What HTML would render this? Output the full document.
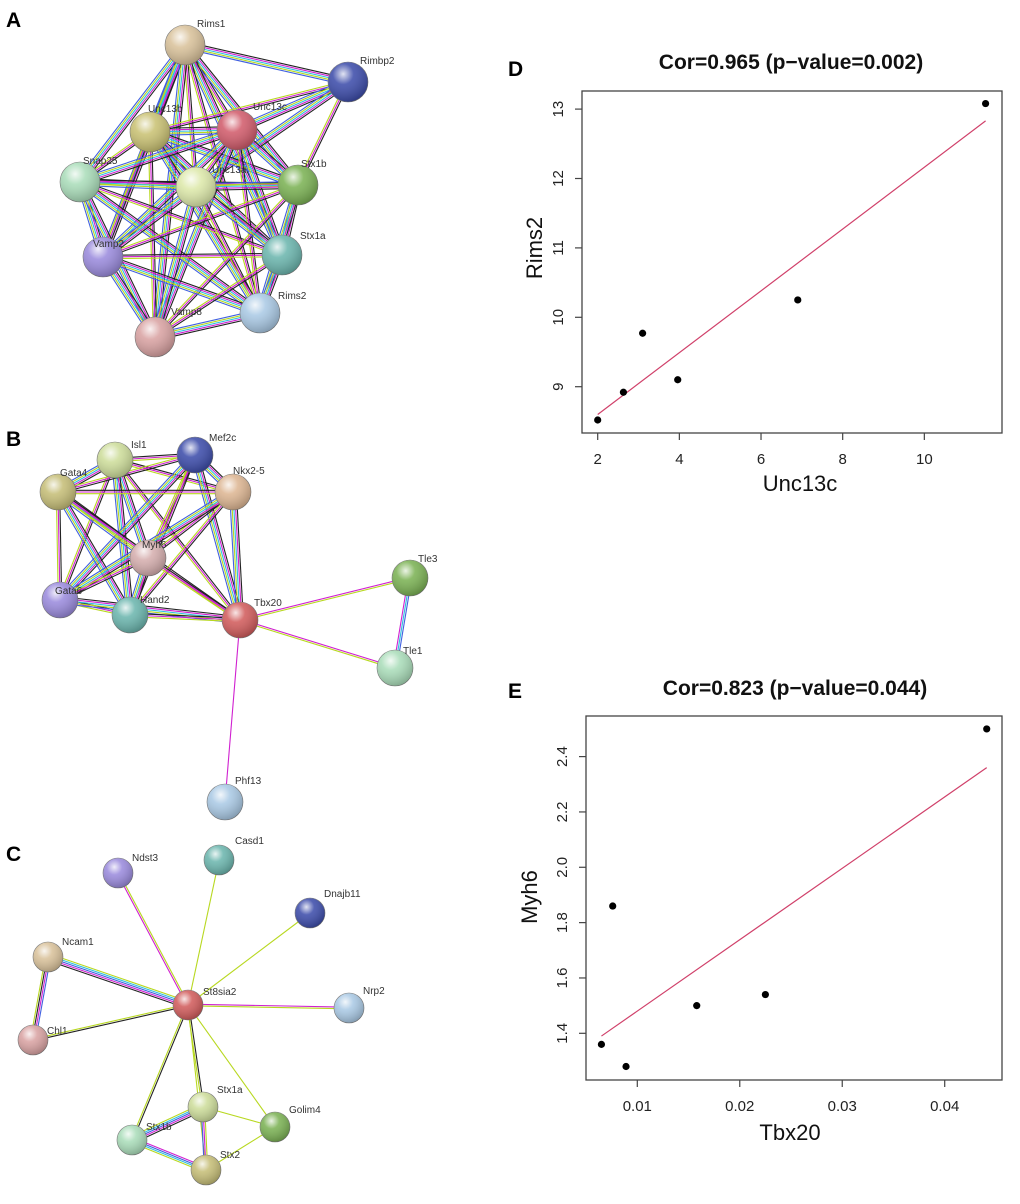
<!DOCTYPE html>
<html><head><meta charset="utf-8"><style>
html,body{margin:0;padding:0;background:#fff;}
svg{display:block;font-family:"Liberation Sans",Arial,sans-serif;}
</style></head><body>
<svg id="fig" width="1020" height="1204" viewBox="0 0 1020 1204">
<defs>
<radialGradient id="gloss" cx="0.38" cy="0.3" r="0.75">
<stop offset="0" stop-color="#fff" stop-opacity="0.85"/>
<stop offset="0.35" stop-color="#fff" stop-opacity="0.15"/>
<stop offset="1" stop-color="#000" stop-opacity="0.25"/>
</radialGradient>
</defs>
<g id="netA"></g>
<g id="netB"></g>
<g id="netC"></g>
<g id="chartD"></g>
<g id="chartE"></g>
<text x="6" y="27" font-size="21" font-weight="bold">A</text>
<text x="6" y="446" font-size="21" font-weight="bold">B</text>
<text x="6" y="861" font-size="21" font-weight="bold">C</text>
<text x="508" y="76" font-size="21" font-weight="bold">D</text>
<text x="508" y="698" font-size="21" font-weight="bold">E</text>
</svg>
<script>
// ---------- Chart D data ----------
const dX = [2.0, 2.63, 3.1, 3.96, 6.9, 11.5];
const dY = [8.52, 8.92, 9.77, 9.1, 10.25, 13.08];
const dFitX = [2.0, 11.5];
const dFitY = [8.6, 12.83];
const dXTicks = [2, 4, 6, 8, 10];
const dYTicks = [9, 10, 11, 12, 13];
// ---------- Chart E data ----------
const eX = [0.0065, 0.0076, 0.0089, 0.0158, 0.0225, 0.0441];
const eY = [1.36, 1.86, 1.28, 1.50, 1.54, 2.50];
const eFitX = [0.0065, 0.0441];
const eFitY = [1.39, 2.36];
const eXTicks = [0.01, 0.02, 0.03, 0.04];
const eXTickLabels = ["0.01", "0.02", "0.03", "0.04"];
const eYTicks = [1.4, 1.6, 1.8, 2.0, 2.2, 2.4];
const eYTickLabels = ["1.4", "1.6", "1.8", "2.0", "2.2", "2.4"];

const NS = "http://www.w3.org/2000/svg";
function mk(tag, attrs, parent) {
  const e = document.createElementNS(NS, tag);
  for (const k in attrs) e.setAttribute(k, attrs[k]);
  parent.appendChild(e);
  return e;
}

function scatter(gid, cfg) {
  const g = document.getElementById(gid);
  const sx = v => cfg.px0 + (v - cfg.vx0) * cfg.kx;
  const sy = v => cfg.py0 - (v - cfg.vy0) * cfg.ky;
  const box = mk("rect", {x: cfg.L, y: cfg.T, width: cfg.R - cfg.L, height: cfg.B - cfg.T, fill: "none", stroke: "#444", "stroke-width": 1.3}, g);
  
  
  const t = mk("text", {x: cfg.titleX, y: cfg.titleY, "text-anchor": "middle", "font-size": 21, "font-weight": "bold", fill: "#111"}, g);
  t.textContent = cfg.title;
  
  
  cfg.xt.forEach((v, i) => {
    const x = sx(v);
    const tk = mk("line", {x1: x, x2: x, y1: cfg.B, y2: cfg.B + 7, stroke: "#444", "stroke-width": 1.2}, g);
    
    
    const lb = mk("text", {x: x, y: cfg.B + 31, "text-anchor": "middle", "font-size": 15, fill: "#222"}, g);
    lb.textContent = cfg.xtl[i];
    
    
  });
  cfg.yt.forEach((v, i) => {
    const y = sy(v);
    const tk = mk("line", {x1: cfg.L - 7, x2: cfg.L, y1: y, y2: y, stroke: "#444", "stroke-width": 1.2}, g);
    
    
    const lx = cfg.L - 19;
    const lb = mk("text", {x: lx, y: y, "text-anchor": "middle", "font-size": 15, fill: "#222", transform: `rotate(-90 ${lx} ${y})`}, g);
    lb.textContent = cfg.ytl[i];
    
    
  });
  const xl = mk("text", {x: cfg.xlX, y: cfg.xlY, "text-anchor": "middle", "font-size": 22, fill: "#111"}, g);
  xl.textContent = cfg.xlab;
  
  
  const yl = mk("text", {x: cfg.ylX, y: cfg.ylY, "text-anchor": "middle", "font-size": 22, fill: "#111", transform: `rotate(-90 ${cfg.ylX} ${cfg.ylY})`}, g);
  yl.textContent = cfg.ylab;
  
  
  const fit = mk("line", {x1: sx(cfg.fx[0]), y1: sy(cfg.fy[0]), x2: sx(cfg.fx[1]), y2: sy(cfg.fy[1]), stroke: "#d0406a", "stroke-width": 1.2}, g);
  
  
  cfg.x.forEach((v, i) => {
    const c = mk("circle", {cx: sx(v), cy: sy(cfg.y[i]), r: 3.6, fill: "#000"}, g);
    
    
  });
}

scatter("chartD", {L: 582, R: 1002, T: 91, B: 433, px0: 597.7, vx0: 2, kx: 40.83, py0: 386.7, vy0: 9, ky: 69.4,
  x: dX, y: dY, fx: dFitX, fy: dFitY, xt: dXTicks, xtl: dXTicks.map(String), yt: dYTicks, ytl: dYTicks.map(String),
  title: "Cor=0.965 (p\u2212value=0.002)", titleX: 791, titleY: 69, xlab: "Unc13c", xlX: 800, xlY: 491, ylab: "Rims2", ylX: 542, ylY: 248});
scatter("chartE", {L: 586, R: 1002, T: 716, B: 1080, px0: 637.3, vx0: 0.01, kx: 10247, py0: 1033.3, vy0: 1.4, ky: 276.7,
  x: eX, y: eY, fx: eFitX, fy: eFitY, xt: eXTicks, xtl: eXTickLabels, yt: eYTicks, ytl: eYTickLabels,
  title: "Cor=0.823 (p\u2212value=0.044)", titleX: 795, titleY: 695, xlab: "Tbx20", xlX: 790, xlY: 1140, ylab: "Myh6", ylX: 537, ylY: 897});

// ---------- Networks ----------
const K = "#222", M = "#d020d0", C = "#30c0e0", Y = "#b8d820", Bl = "#4060e0";
function network(gid, nodes, edges, r) {
  const g = document.getElementById(gid);
  const idx = {};
  nodes.forEach(n => idx[n[0]] = n);
  edges.forEach(e => {
    const a = idx[e[0]], b = idx[e[1]], cols = e[2];
    const dx = b[1] - a[1], dy = b[2] - a[2], L = Math.hypot(dx, dy);
    const nx = -dy / L, ny = dx / L, sp = 1.7;
    const eg = mk("g", {}, g);
    
    
    cols.forEach((c, i) => {
      const o = (i - (cols.length - 1) / 2) * sp;
      mk("line", {x1: a[1] + nx * o, y1: a[2] + ny * o, x2: b[1] + nx * o, y2: b[2] + ny * o, stroke: c, "stroke-width": 1.1}, eg);
    });
  });
  nodes.forEach(n => {
    const ng = mk("g", {}, g);
    
    
    mk("circle", {cx: n[1], cy: n[2], r: r, fill: n[3], stroke: "#777", "stroke-width": 0.6}, ng);
    mk("circle", {cx: n[1], cy: n[2], r: r, fill: "url(#gloss)"}, ng);
    const t = mk("text", {x: n[1] + (n[4] || 0), y: n[2] + (n[5] || 0), "font-size": 10, fill: "#333"}, ng);
    t.textContent = n[0];
  });
}
const full = [K, M, C, Y, Bl];
const nodesA = [
  ["Rims1", 185, 45, "#d8c098", 12, -18], ["Rimbp2", 348, 82, "#3848a8", 12, -18],
  ["Unc13b", 150, 132, "#c8c070", -2, -20], ["Unc13c", 237, 130, "#d05868", 16, -20],
  ["Snap25", 80, 182, "#a8dcb8", 3, -18], ["Stx1b", 298, 185, "#78b050", 3, -18],
  ["Unc13a", 196, 187, "#dce8a8", 16, -14], ["Vamp2", 103, 257, "#9888dc", -10, -10],
  ["Stx1a", 282, 255, "#68b4ac", 18, -16], ["Rims2", 260, 313, "#a8c8e4", 18, -14], ["Vamp8", 155, 337, "#d8a0a0", 16, -22]];
const edgesA = [];
for (let i = 0; i < nodesA.length; i++) for (let j = i + 1; j < nodesA.length; j++) {
  const a = nodesA[i][0], b = nodesA[j][0];
  if ((a === "Rimbp2" && ["Snap25", "Vamp2", "Vamp8", "Rims2", "Stx1a"].includes(b)) || (b === "Rimbp2" && ["Snap25", "Vamp2", "Vamp8"].includes(a))) continue;
  edgesA.push([a, b, (i + j) % 3 === 0 ? [K, M, Y] : full]);
}
network("netA", nodesA, edgesA, 20);

const nodesB = [
  ["Isl1", 115, 460, "#ccdc98", 16, -12], ["Mef2c", 195, 455, "#3848a8", 14, -14],
  ["Gata4", 58, 492, "#c4bc74", 2, -16], ["Nkx2-5", 233, 492, "#dcb490", 0, -18],
  ["Myh6", 148, 558, "#d4acac", -6, -10], ["Gata6", 60, 600, "#9888dc", -5, -6],
  ["Hand2", 130, 615, "#68b4ac", 10, -12], ["Tbx20", 240, 620, "#d05858", 14, -14],
  ["Tle3", 410, 578, "#78b050", 8, -16], ["Tle1", 395, 668, "#a8dcb8", 8, -14], ["Phf13", 225, 802, "#a8c8e4", 10, -18]];
const edgesB = [];
for (let i = 0; i < 8; i++) for (let j = i + 1; j < 8; j++) edgesB.push([nodesB[i][0], nodesB[j][0], (i + j) % 2 ? [K, M, Y] : full]);
edgesB.push(["Tbx20", "Tle3", [M, Y]], ["Tbx20", "Tle1", [M, Y]], ["Tle3", "Tle1", [Bl, C, M]], ["Tbx20", "Phf13", [M]]);
network("netB", nodesB, edgesB, 18);

const nodesC = [
  ["Ndst3", 118, 873, "#9888dc", 14, -12], ["Casd1", 219, 860, "#68b4ac", 16, -16],
  ["Dnajb11", 310, 913, "#3848a8", 14, -16], ["Ncam1", 48, 957, "#d8c098", 14, -12],
  ["St8sia2", 188, 1005, "#d05858", 15, -10], ["Nrp2", 349, 1008, "#a8c8e4", 14, -14],
  ["Chl1", 33, 1040, "#d8a0a0", 14, -6], ["Stx1a", 203, 1107, "#ccdc98", 14, -14],
  ["Golim4", 275, 1127, "#78b050", 14, -14], ["Stx1b", 132, 1140, "#a8dcb8", 14, -10], ["Stx2", 206, 1170, "#c4bc74", 14, -12]];
const edgesC = [
  ["St8sia2", "Ndst3", [M, Y]], ["St8sia2", "Casd1", [Y]], ["St8sia2", "Dnajb11", [Y]],
  ["St8sia2", "Ncam1", [K, M, Bl, C, Y]], ["St8sia2", "Nrp2", [M, Y]], ["St8sia2", "Chl1", [K, Y]],
  ["St8sia2", "Stx1a", [K, Y]], ["St8sia2", "Golim4", [Y]], ["St8sia2", "Stx1b", [K, Y]], ["St8sia2", "Stx2", [Y]],
  ["Ncam1", "Chl1", [Bl, M, K, Y]], ["Stx1a", "Stx1b", [K, M, Bl, C, Y]], ["Stx1a", "Stx2", [Y, M, Bl]],
  ["Stx1b", "Stx2", [M, Bl, C, Y]], ["Stx1a", "Golim4", [Y]], ["Stx2", "Golim4", [Y]]];
network("netC", nodesC, edgesC, 15);
</script>
</body></html>
